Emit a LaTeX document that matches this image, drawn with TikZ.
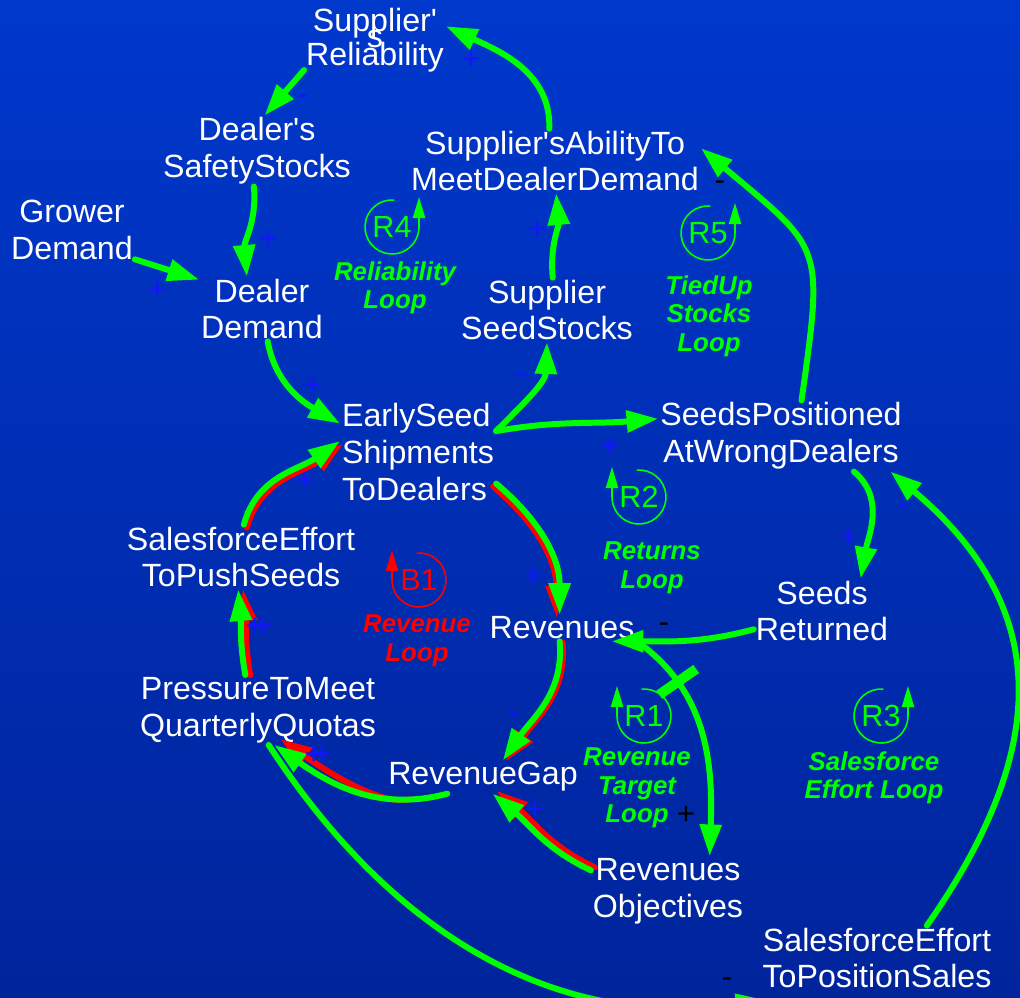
\documentclass[tikz,border=0pt]{standalone}
\usepackage{fontspec}
\setmainfont{Liberation Sans}[Ligatures=TeXOff]
\usetikzlibrary{arrows.meta}
\definecolor{bgtop}{RGB}{0,56,204}
\definecolor{bgbot}{RGB}{0,36,156}
\definecolor{linkgreen}{RGB}{0,255,0}
\definecolor{linkred}{RGB}{255,0,0}
\definecolor{signblue}{RGB}{20,20,255}
\tikzset{>={Triangle[length=18pt,width=12pt]}}

\begin{document}
\begin{tikzpicture}[x=0.02cm, y=0.02cm,
  var/.style={text=white, align=center, inner sep=1pt, font=\fontsize{18.3}{21}\selectfont},
  link/.style={->, draw=linkgreen, line width=3.4pt, line cap=round},
  twin/.style={->, draw=linkred, line width=3.4pt, line cap=round},
  sign/.style={text=signblue, font=\fontsize{18}{18}\selectfont, inner sep=0pt},
  blacksign/.style={sign, text=black},
  looptag/.style={font=\fontsize{14.7}{16.2}\bfseries\itshape\selectfont, align=center, inner sep=0pt},
  loopid/.style={font=\fontsize{17.4}{18}\selectfont, inner sep=0pt},
  loopring/.style={line width=0.9pt, -{Triangle[length=12pt,width=7pt]}},
  delaybar/.style={fill=linkgreen, minimum width=0.2cm, minimum height=0.9cm, inner sep=0pt}
]
  % Background
  \useasboundingbox (0,0) rectangle (1020,-997);
  \clip (0,0) rectangle (1020,-997);
  \fill[top color=bgtop, bottom color=bgbot] (0,0) rectangle (1020,-997);

  % Variables
  \node[var] (rel) at (375,-40) {Supplier'\\[-12pt]s\\[-10.8pt]Reliability};
  \node[var] (dss) at (257,-151) {Dealer's\\SafetyStocks};
  \node[var] (gd) at (72,-230) {Grower\\Demand};
  \node[var] (dd) at (262,-309) {Dealer\\Demand};
  \node[var] (abil) at (555,-161) {Supplier'sAbilityTo\\MeetDealerDemand};
  \node[var] (sss) at (547,-310) {Supplier\\SeedStocks};
  \node[var, align=left, anchor=west] (ess) at (340,-452) {EarlySeed\\Shipments\\ToDealers};
  \node[var] (spw) at (781,-436) {SeedsPositioned\\AtWrongDealers};
  \node[var] (sr) at (822,-611) {Seeds\\Returned};
  \node[var] (sps) at (241,-557) {SalesforceEffort\\ToPushSeeds};
  \node[var] (rev) at (562,-628) {Revenues};
  \node[var] (pq) at (258,-710) {PressureToMeet\\QuarterlyQuotas};
  \node[var] (gap) at (483,-777) {RevenueGap};
  \node[var] (obj) at (668,-891) {Revenues\\Objectives};
  \node[var] (sfs) at (877,-958) {SalesforceEffort\\ToPositionSales};

  % Links
  \draw[link] (abil.100) to[out=88,in=-25] (rel.11);
  \draw[link] (rel.203) -- (dss.78);
  \draw[link] (dss.265) to[out=-85,in=95] (dd.115);
  \draw[link] (gd.-25) -- (dd.155);
  \draw[link] (dd.-80) to[out=-80,in=150] (ess.160);
  \draw[twin, transform canvas={shift={(3,-3)}}] (sps.85) to[out=75,in=215] (ess.172);
  \draw[link] (sps.85) to[out=75,in=215] (ess.172);
  \draw[twin, transform canvas={shift={(5,0)}}] (pq.110) to[out=100,in=-85] (sps.265);
  \draw[link] (pq.110) to[out=100,in=-85] (sps.265);
  \draw[link] (ess.15) to[out=45,in=-92] (sss.south);
  \draw[link] (ess.15) to[out=10,in=185] (spw.172);
  \draw[link] (sss.80) to[out=95,in=-85] (abil.-88);
  \draw[link] (spw.60) to[out=82,in=-40,looseness=1.5] (abil.5);
  \draw[link] (spw.-26) to[out=-40,in=80] (sr.40);
  \draw[link] (sr.195) to[out=195,in=0] (rev.-15);
  \draw[twin, transform canvas={shift={(-3,-3)}}] (ess.-22) to[out=-40,in=90] (rev.100);
  \draw[link] (ess.-22) to[out=-40,in=90] (rev.100);
  \draw[twin, transform canvas={shift={(3,-1)}}] (rev.-100) to[out=-85,in=55] (gap.40);
  \draw[link] (rev.-100) to[out=-85,in=55] (gap.40);
  \draw[twin, shorten <=0.9cm, transform canvas={shift={(6,6)}}] (gap.-155) to[out=195,in=-35] (pq.-65);
  \draw[link] (gap.-155) to[out=195,in=-35] (pq.-65);
  \draw[twin, transform canvas={shift={(4,3)}}] (obj.165) to[out=155,in=-40] (gap.-60);
  \draw[link] (obj.165) to[out=155,in=-40] (gap.-60);
  \draw[link] (rev.-10) to[out=-35,in=88] node[delaybar, sloped, pos=0.24] (lag) {} (obj.40);
  \draw[link] (sfs.33) to[out=55,in=-40,looseness=1.2] (spw.-18);
  \draw[link] (pq.-73) to[out=-57,in=188] ([shift={(7,-10)}]sfs.south west);

  % Polarities
  \node[sign] (sg1) at (471,-60) {+};
  \node[sign] (sg2) at (303,-100) {-};
  \node[sign] (sg3) at (268,-240) {+};
  \node[sign] (sg4) at (157,-290) {+};
  \node[sign] (sg5) at (313,-386) {+};
  \node[sign] (sg6) at (304,-481) {+};
  \node[sign] (sg7) at (259,-627) {+\kern-0.32em+};
  \node[sign] (sg8) at (522,-378) {-};
  \node[sign] (sg9) at (610,-447) {+};
  \node[sign] (sg10) at (537,-230) {+};
  \node[blacksign] (sg11) at (720,-186) {-};
  \node[sign] (sg12) at (848,-538) {+};
  \node[blacksign] (sg13) at (664,-628) {-};
  \node[sign] (sg14) at (533,-577) {+};
  \node[sign] (sg15) at (513,-718) {-};
  \node[sign] (sg16) at (318,-755) {+\kern-0.32em+};
  \node[sign] (sg17) at (535,-810) {+};
  \node[blacksign] (sg18) at (686,-815) {+};
  \node[sign] (sg19) at (903,-510) {-};
  \node[blacksign] (sg20) at (727,-983) {-};

  % Loop markers
  \coordinate (r4) at (392,-227);
  \draw[loopring, draw=linkgreen] ([shift={(85:0.54cm)}]r4) arc[start angle=85, end angle=360, radius=0.54cm] -- ++(0,0.6cm);
  \node[loopid, text=linkgreen] (r4id) at (r4) {R4};
  \node[looptag, text=linkgreen] (r4tag) at (395,-288) {Reliability\\Loop};

  \coordinate (r5) at (708,-233);
  \draw[loopring, draw=linkgreen] ([shift={(85:0.54cm)}]r5) arc[start angle=85, end angle=360, radius=0.54cm] -- ++(0,0.6cm);
  \node[loopid, text=linkgreen] (r5id) at (r5) {R5};
  \node[looptag, text=linkgreen] (r5tag) at (709,-316) {TiedUp\\Stocks\\Loop};

  \coordinate (r2) at (639,-497);
  \draw[loopring, draw=linkgreen] ([shift={(95:0.54cm)}]r2) arc[start angle=95, end angle=-180, radius=0.54cm] -- ++(0,0.6cm);
  \node[loopid, text=linkgreen] (r2id) at (r2) {R2};
  \node[looptag, text=linkgreen] (r2tag) at (652,-568) {Returns\\Loop};

  \coordinate (b1) at (419,-580);
  \draw[loopring, draw=linkred] ([shift={(95:0.54cm)}]b1) arc[start angle=95, end angle=-180, radius=0.54cm] -- ++(0,0.6cm);
  \node[loopid, text=linkred] (b1id) at (b1) {B1};
  \node[looptag, text=linkred] (b1tag) at (417,-641) {Revenue\\Loop};

  \coordinate (r1) at (644,-716);
  \draw[loopring, draw=linkgreen] ([shift={(95:0.54cm)}]r1) arc[start angle=95, end angle=-180, radius=0.54cm] -- ++(0,0.6cm);
  \node[loopid, text=linkgreen] (r1id) at (r1) {R1};
  \node[looptag, text=linkgreen] (r1tag) at (637,-788) {Revenue\\Target\\Loop};

  \coordinate (r3) at (881,-716);
  \draw[loopring, draw=linkgreen] ([shift={(85:0.54cm)}]r3) arc[start angle=85, end angle=360, radius=0.54cm] -- ++(0,0.6cm);
  \node[loopid, text=linkgreen] (r3id) at (r3) {R3};
  \node[looptag, text=linkgreen] (r3tag) at (874,-778) {Salesforce\\Effort Loop};
\end{tikzpicture}
\end{document}
